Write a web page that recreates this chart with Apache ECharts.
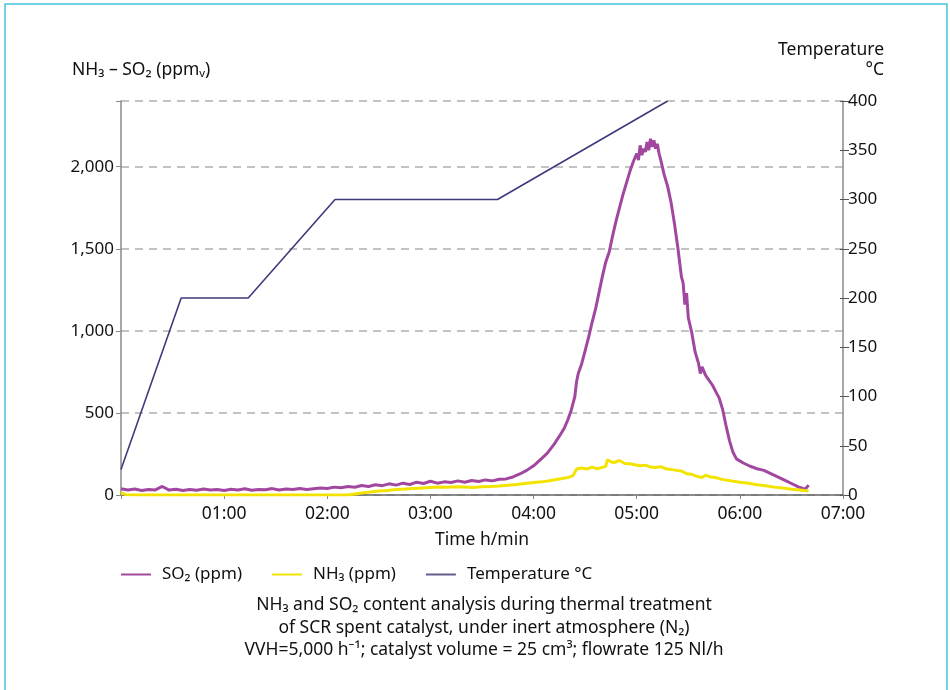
<!DOCTYPE html>
<html>
<head>
<meta charset="utf-8">
<script src="https://cdn.jsdelivr.net/npm/echarts@6/dist/echarts.min.js"></script>
<style>
  html, body { margin: 0; padding: 0; background: #fff; }
  #main { width: 950px; height: 690px; }
</style>
</head>
<body>
<div id="main"></div>
<script>
// time in minutes
var so2Time = [0, 4, 8, 12, 16, 20, 24, 28, 32, 36, 40, 44, 48, 52, 56, 60, 64, 68, 72, 76,
  80, 84, 88, 92, 96, 100, 104, 108, 112, 116, 120, 124, 128, 132, 136, 140, 144, 148, 152, 156,
  160, 164, 168, 172, 176, 180, 184, 188, 192, 196, 200, 204, 208, 212, 216, 220, 224, 228, 232, 236,
  240, 244, 248, 252, 256, 258, 260, 262, 264, 265, 266, 268, 270, 272, 274, 276, 278, 280, 282, 284,
  286, 288, 290, 292, 294, 296, 298, 300, 301, 302, 303, 304, 305, 306, 307, 308, 309, 310, 311, 312,
  313, 314, 316, 318, 320, 322, 324, 326, 327, 328, 329, 330, 332, 334, 336, 337, 338, 340, 342, 344,
  346, 348, 350, 352, 354, 356, 358, 362, 366, 370, 374, 378, 382, 386, 390, 394, 398, 400];
var so2Values = [38, 30, 36, 28, 34, 31, 52, 30, 35, 27, 33, 29, 36, 30, 34, 28, 35, 31, 38, 29,
  34, 32, 39, 30, 36, 33, 40, 34, 38, 42, 40, 48, 44, 52, 47, 58, 52, 62, 57, 68,
  60, 72, 64, 78, 70, 84, 72, 80, 76, 86, 78, 88, 82, 92, 86, 96, 98, 110, 128, 150,
  178, 215, 255, 310, 375, 410, 460, 520, 600, 690, 740, 800, 880, 960, 1050, 1130, 1230, 1330, 1420, 1480,
  1580, 1670, 1750, 1830, 1900, 1970, 2030, 2080, 2040, 2130, 2070, 2110, 2090, 2150, 2100, 2170, 2120, 2160, 2110, 2140,
  2080, 2040, 1950, 1880, 1780, 1650, 1500, 1330, 1290, 1160, 1230, 1080, 990, 870, 800, 740, 780, 730, 700, 670,
  630, 590, 520, 420, 330, 260, 220, 195, 175, 160, 150, 130, 110, 90, 70, 50, 35, 60];

var nh3Time = [0, 3, 10, 60, 132, 136, 140, 145, 150, 155, 160, 165, 170, 175, 180, 185, 190, 195, 200, 205,
  210, 215, 220, 225, 230, 235, 240, 245, 250, 255, 260, 263, 264, 265, 268, 271, 274, 277, 280, 282,
  283, 285, 287, 290, 293, 296, 299, 302, 305, 308, 311, 314, 317, 320, 323, 326, 329, 332, 335, 338,
  339, 340, 343, 346, 350, 355, 360, 365, 370, 375, 380, 385, 390, 395, 400];
var nh3Values = [12, 2, 0, 0, 0, 6, 12, 18, 24, 28, 33, 36, 40, 43, 46, 48, 47, 50, 48, 46,
  50, 52, 55, 60, 64, 70, 76, 80, 88, 98, 106, 118, 125, 158, 165, 158, 170, 160, 168, 175,
  215, 202, 198, 210, 192, 190, 184, 178, 182, 170, 168, 172, 160, 156, 150, 146, 130, 126, 114, 106,
  95, 120, 110, 106, 94, 86, 78, 72, 62, 56, 48, 42, 35, 30, 25];

var tempTime = [0, 35, 74, 124.5, 219, 318];
var tempValues = [26, 200, 200, 300, 300, 400];

function pairs(xs, ys) {
  return xs.map(function (x, i) { return [x, ys[i]]; });
}

var font = "'Noto Sans', 'DejaVu Sans', sans-serif";
var axisGrey = "#8a8a8a";

var chart = echarts.init(document.getElementById("main"));
var option = {
  backgroundColor: "#fff",
  animation: false,
  textStyle: { fontFamily: font },
  grid: { left: 121, right: 107, top: 101, bottom: 195 },
  legend: {
    left: 116,
    top: 561,
    icon: "rect",
    itemWidth: 30,
    itemHeight: 2,
    itemGap: 30,
    textStyle: { fontSize: 17, color: "#111", padding: [0, 0, 0, 6] },
    data: ["SO₂ (ppm)", "NH₃ (ppm)", "Temperature °C"]
  },
  xAxis: {
    type: "value",
    min: 0,
    max: 420,
    interval: 60,
    name: "Time h/min",
    nameLocation: "middle",
    nameGap: 36,
    nameTextStyle: { fontSize: 17.5, color: "#111" },
    axisLine: { lineStyle: { color: "#666", width: 1.5 } },
    axisTick: { length: 4, lineStyle: { color: axisGrey } },
    axisLabel: {
      fontSize: 17.5,
      color: "#111",
      margin: 10,
      formatter: function (v) {
        if (v === 0) return "";
        return ("0" + v / 60).slice(-2) + ":00";
      }
    },
    splitLine: { show: false }
  },
  yAxis: [
    {
      type: "value",
      min: 0,
      max: 2400,
      interval: 500,
      position: "left",
      axisLine: { show: true, lineStyle: { color: axisGrey, width: 1.5 } },
      axisTick: { show: true, length: 5, lineStyle: { color: axisGrey } },
      axisLabel: {
        fontSize: 17,
        color: "#111",
        margin: 7,
        formatter: function (v) {
          return v === 2400 ? "" : v.toLocaleString("en-US");
        }
      },
      splitLine: { lineStyle: { color: "#b0b0b0", type: [8, 6], width: 1.5 } }
    },
    {
      type: "value",
      min: 0,
      max: 400,
      interval: 50,
      position: "right",
      axisLine: { show: true, lineStyle: { color: axisGrey, width: 1.5 } },
      axisTick: { show: true, length: 6, lineStyle: { color: "#555" } },
      axisLabel: { fontSize: 17, color: "#111", margin: 5 },
      splitLine: { show: false }
    },
    {
      type: "value",
      min: 0,
      max: 400,
      interval: 50,
      position: "right",
      axisLine: { show: false },
      axisTick: { show: true, inside: true, length: 3, lineStyle: { color: "#555" } },
      axisLabel: { show: false },
      splitLine: { show: false }
    }
  ],
  series: [
    {
      name: "SO₂ (ppm)",
      type: "line",
      yAxisIndex: 0,
      showSymbol: false,
      data: pairs(so2Time, so2Values),
      lineStyle: { color: "#a2479f", width: 3 },
      itemStyle: { color: "#a2479f" }
    },
    {
      name: "NH₃ (ppm)",
      type: "line",
      yAxisIndex: 0,
      showSymbol: false,
      data: pairs(nh3Time, nh3Values),
      lineStyle: { color: "#f2e400", width: 3 },
      itemStyle: { color: "#f2e400" }
    },
    {
      name: "Temperature °C",
      type: "line",
      yAxisIndex: 1,
      showSymbol: false,
      data: pairs(tempTime, tempValues),
      lineStyle: { color: "#3d3b7c", width: 1.6 },
      itemStyle: { color: "#615f8c" }
    }
  ],
  graphic: [
    {
      type: "rect",
      shape: { x: 5, y: 4, width: 942, height: 700 },
      style: { fill: "none", stroke: "#45c3da", lineWidth: 1.5 },
      silent: true
    },
    {
      type: "text",
      left: 72,
      top: 61,
      style: { text: "NH₃ – SO₂ (ppmᵥ)", font: "17.5px " + font, fill: "#111" }
    },
    {
      type: "text",
      x: 884,
      y: 41,
      style: { text: "Temperature", font: "17.5px " + font, fill: "#111", align: "right" }
    },
    {
      type: "text",
      x: 884,
      y: 61,
      style: { text: "°C", font: "17.5px " + font, fill: "#111", align: "right" }
    },
    {
      type: "text",
      x: 484,
      y: 594,
      style: {
        text: "NH₃ and SO₂ content analysis during thermal treatment\nof SCR spent catalyst, under inert atmosphere (N₂)\nVVH=5,000 h⁻¹; catalyst volume = 25 cm³; flowrate 125 Nl/h",
        font: "17.5px " + font,
        fill: "#111",
        align: "center",
        lineHeight: 22.5
      }
    }
  ]
};
chart.setOption(option);
</script>
</body>
</html>
